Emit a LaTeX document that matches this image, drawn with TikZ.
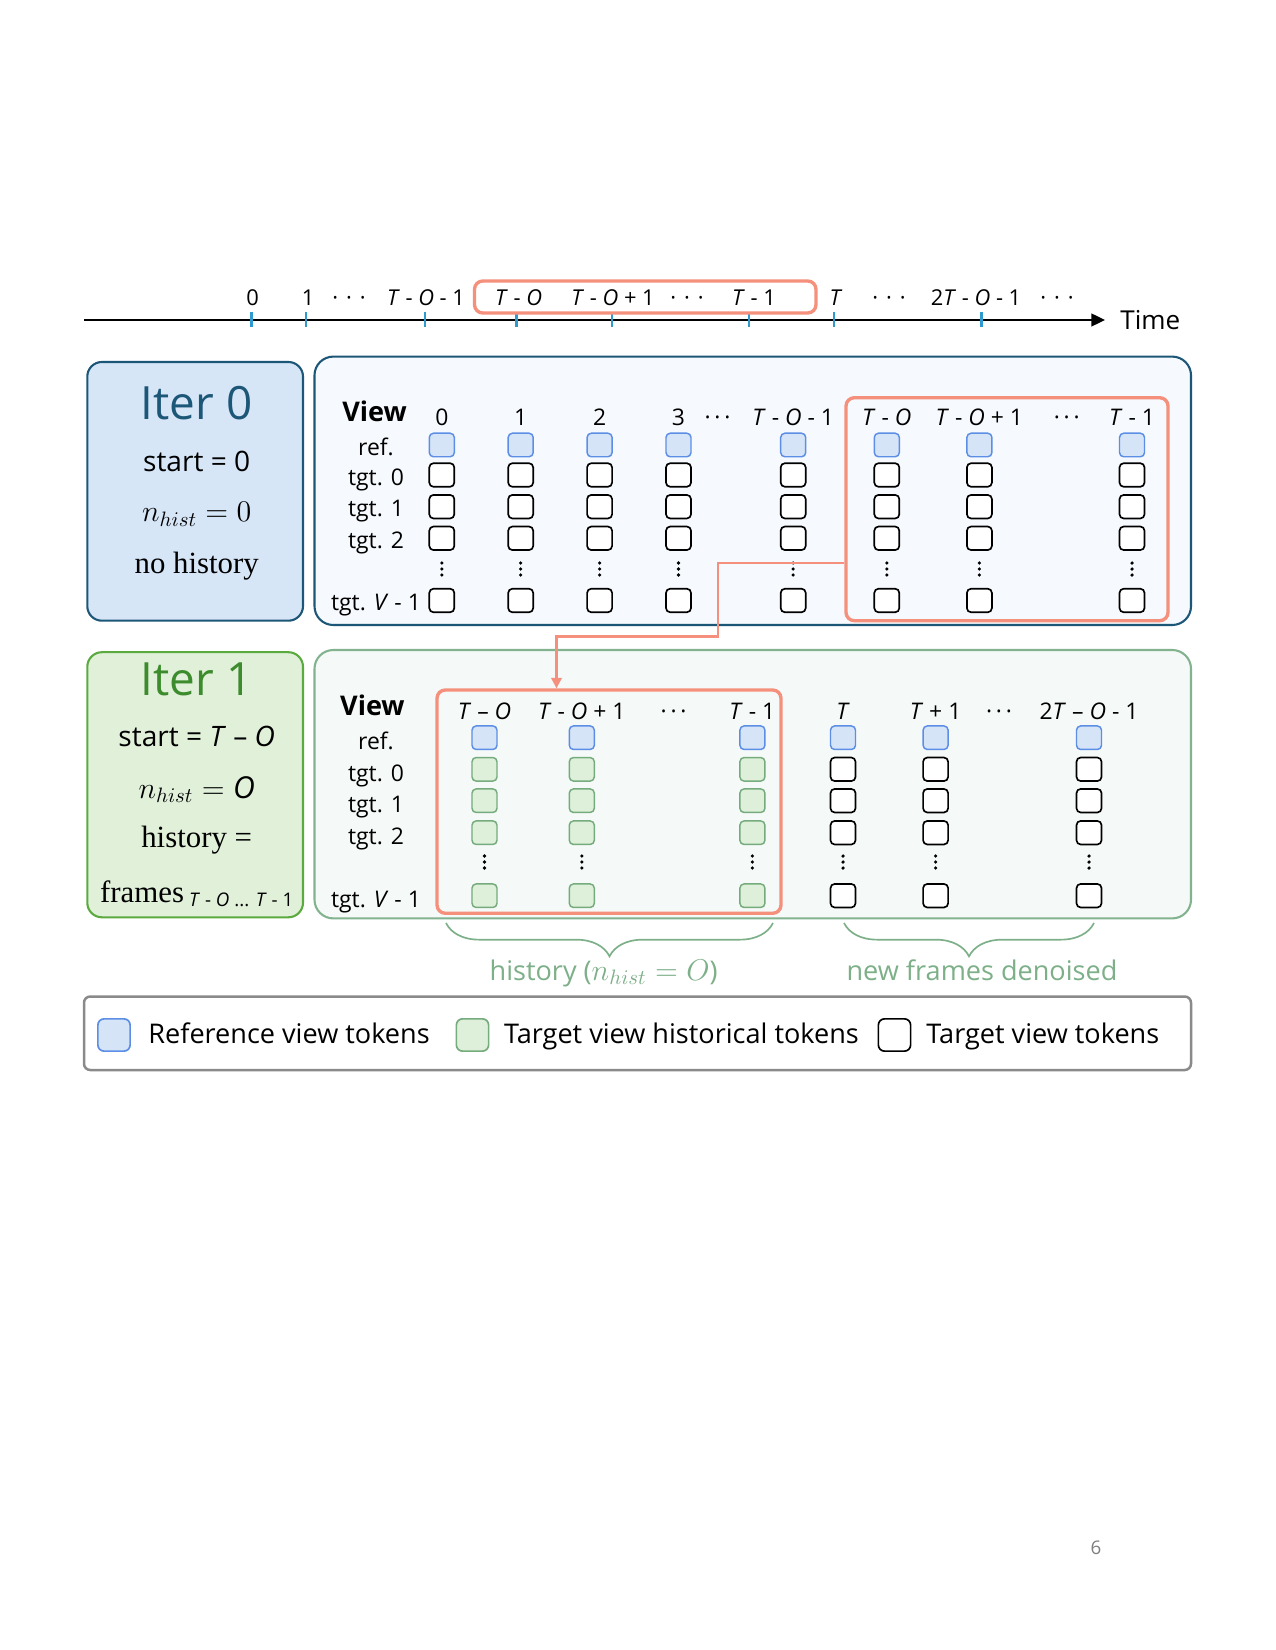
\documentclass[tikz,border=0pt]{standalone}
\usepackage{fontspec}
\setsansfont{Open Sans}
\newfontfamily\bodyserif{Liberation Serif}
\renewcommand{\familydefault}{\sfdefault}
\usetikzlibrary{arrows.meta,fit,decorations.pathreplacing}
\definecolor{iterzeroedge}{HTML}{1D5778}
\definecolor{iterzerofill}{HTML}{D6E6F7}
\definecolor{panelzerofill}{HTML}{F6F9FD}
\definecolor{iteronetext}{HTML}{3C8B2C}
\definecolor{iteroneedge}{HTML}{5BAA3F}
\definecolor{iteronefill}{HTML}{E0F0D9}
\definecolor{paneloneedge}{HTML}{82B38E}
\definecolor{panelonefill}{HTML}{F5F9F8}
\definecolor{reffill}{HTML}{D5E4F7}
\definecolor{refedge}{HTML}{5C8EE6}
\definecolor{histfill}{HTML}{DFF0DA}
\definecolor{histedge}{HTML}{75AB7D}
\definecolor{salmon}{HTML}{F4907B}
\definecolor{tickblue}{HTML}{2E9AD0}
\definecolor{bracegreen}{HTML}{7DAF88}
\definecolor{legendedge}{HTML}{8A8A8A}
\newcommand{\tdots}{·\hspace{3.8pt}·\hspace{3.8pt}·}
\newcommand{\hdots}{·\hspace{1.8pt}·\hspace{1.8pt}·}

\begin{document}
\begin{tikzpicture}[x=0.48pt, y=-0.48pt,
  tok/.style={rounded corners=2pt, minimum width=12pt, minimum height=11.3pt, inner sep=0pt},
  reftok/.style={tok, fill=reffill, draw=refedge, line width=0.7pt},
  histtok/.style={tok, fill=histfill, draw=histedge, line width=0.7pt},
  tgttok/.style={tok, fill=white, draw=black, line width=0.8pt},
  legtok/.style={minimum width=15.5pt, minimum height=15.5pt, rounded corners=3pt, inner sep=0pt},
  selbox/.style={draw=salmon, line width=1.6pt, rounded corners=4pt, inner sep=0pt},
  colhead/.style={anchor=base, inner sep=0pt, font=\fontsize{11}{13}\selectfont},
  rowlbl/.style={anchor=base, inner sep=0pt, font=\fontsize{11}{13}\selectfont},
  viewlbl/.style={anchor=base, inner sep=0pt, font=\bfseries\fontsize{13}{15}\selectfont},
  timelbl/.style={anchor=base, inner sep=0pt, font=\fontsize{10.5}{12}\selectfont},
  itertitle/.style={anchor=base, inner sep=0pt, font=\fontsize{22}{26}\selectfont},
  iterline/.style={anchor=base, inner sep=0pt, font=\fontsize{13.5}{16}\selectfont},
  serifline/.style={anchor=base, inner sep=0pt, font=\bodyserif\fontsize{14.8}{17}\selectfont},
  mathline/.style={anchor=base, inner sep=0pt, font=\fontsize{14.5}{17}\selectfont},
  bracelbl/.style={anchor=base, inner sep=0pt, text=bracegreen, font=\fontsize{13}{15}\selectfont},
  leglbl/.style={anchor=base west, inner sep=0pt, font=\fontsize{13}{15}\selectfont},
  brace/.style={draw=bracegreen, line width=0.8pt, decorate, decoration={brace, mirror, amplitude=16pt}},
]
  \fill[white] (0,0) rectangle (1275,1650);
  \useasboundingbox (0,0) rectangle (1275,1650);

  % time axis
  \coordinate (axstart) at (84,320);
  \coordinate (axend) at (1105,320);
  \draw[line width=1.2pt, -{Triangle[length=6.5pt,width=6pt]}] (axstart) -- (axend);
  \node[anchor=base west, inner sep=0pt, font=\fontsize{12.5}{15}\selectfont] (timeword) at (1120,330) {Time};
  \foreach \x in {251.5,306,425,516.5,612,749,834,981.5}
    \draw[tickblue, line width=1pt] (\x,312) -- (\x,327);
  \foreach \x/\tl [count=\i] in {252.5/0, 308/1, 349/\tdots, 426/{\textit{T} - \textit{O} - 1},
      518.6/{\textit{T} - \textit{O}}, 613/{\textit{T} - \textit{O} + 1}, 687/\tdots, 754/{\textit{T} - 1},
      836/\textit{T}, 889/\tdots, 976/{2\textit{T} - \textit{O} - 1}, 1057/\tdots}
    \node[timelbl] (tick\i) at (\x,306) {\tl};
  \node[selbox, fit={(474.5,281) (816,313)}] (seltime) {};

  % iter 0
  \draw[iterzeroedge, fill=iterzerofill, line width=1pt, rounded corners=7pt] (87.3,362) rectangle (303,620.7);
  \draw[iterzeroedge, fill=panelzerofill, line width=1pt, rounded corners=9pt] (314.5,356.6) rectangle (1191,625);
  \node[itertitle, text=iterzeroedge] (itzero) at (196.7,419.5) {Iter 0};
  \node[iterline] (itzerostart) at (196.7,471.5) {start = 0};
  \node[mathline] (itzerohist) at (196.7,521.5) {$n_{hist} = 0$};
  \node[serifline] (itzeronone) at (196.7,573) {no history};

  \node[viewlbl] (viewzero) at (374.5,421.5) {View};
  \foreach \y/\rl [count=\i] in {455/ref., 485/tgt. 0, 516.7/tgt. 1, 548.3/tgt. 2, 610.5/{tgt. \textit{V} - 1}}
    \node[rowlbl] (arow\i) at (376,\y) {\rl};
  \foreach \x/\hd [count=\c] in {441.8/0, 520.7/1, 599.6/2, 678.5/3, 793.2/{\textit{T} - \textit{O} - 1},
      886.8/{\textit{T} - \textit{O}}, 979.4/{\textit{T} - \textit{O} + 1}, 1132/{\textit{T} - 1}} {
    \node[colhead] (a\c-h) at (\x,425) {\hd};
    \node[reftok] (a\c-r) at (\x,445) {};
    \node[tgttok] (a\c-0) at (\x,475) {};
    \node[tgttok] (a\c-1) at (\x,506.7) {};
    \node[tgttok] (a\c-2) at (\x,538.3) {};
    \fill (\x,563) circle (0.85pt) (\x,569) circle (0.85pt) (\x,575) circle (0.85pt);
    \node[tgttok] (a\c-v) at (\x,600.5) {};
  }
  \node[colhead] (adots1) at (717.5,425) {\hdots};
  \node[colhead] (adots2) at (1066.7,425) {\hdots};
  \node[selbox, fit={(846,397.7) (1168,620.7)}] (selA) {};

  % iter 1
  \draw[iteroneedge, fill=iteronefill, line width=1pt, rounded corners=7pt] (87.3,652.2) rectangle (303,917.3);
  \draw[paneloneedge, fill=panelonefill, line width=1pt, rounded corners=9pt] (314.5,650) rectangle (1191,918.4);
  \node[itertitle, text=iteronetext] (itone) at (196.7,695) {Iter 1};
  \node[iterline] (itonestart) at (196.7,746.5) {start = \textit{T} -- \textit{O}};
  \node[mathline] (itonehist) at (196.7,798) {$n_{hist} = \textit{O}$};
  \node[serifline] (itonehis) at (196.7,847) {history =};
  \node[serifline] (itoneframes) at (196.7,902) {frames\,\raisebox{-2.3pt}{\sffamily\fontsize{9}{11}\selectfont\textit{T} - \textit{O} ... \textit{T} - 1}};

  \node[viewlbl] (viewone) at (372.4,715) {View};
  \foreach \y/\rl [count=\i] in {749.7/ref., 781.3/tgt. 0, 812.7/tgt. 1, 844.7/tgt. 2, 907.7/{tgt. \textit{V} - 1}}
    \node[rowlbl] (brow\i) at (376,\y) {\rl};
  \foreach \x/\hd/\st [count=\c] in {484.5/{\textit{T} -- \textit{O}}/histtok, 581.8/{\textit{T} - \textit{O} + 1}/histtok,
      752.4/{\textit{T} - 1}/histtok, 843/\textit{T}/tgttok, 935.6/{\textit{T} + 1}/tgttok,
      1089/{2\textit{T} -- \textit{O} - 1}/tgttok} {
    \node[colhead] (b\c-h) at (\x,719) {\hd};
    \node[reftok] (b\c-r) at (\x,737.7) {};
    \node[\st] (b\c-0) at (\x,769.3) {};
    \node[\st] (b\c-1) at (\x,800.7) {};
    \node[\st] (b\c-2) at (\x,832.7) {};
    \fill (\x,856) circle (0.85pt) (\x,862) circle (0.85pt) (\x,868) circle (0.85pt);
    \node[\st] (b\c-v) at (\x,895.7) {};
  }
  \node[colhead] (bdots1) at (673.6,719) {\hdots};
  \node[colhead] (bdots2) at (999,719) {\hdots};
  \node[selbox, fit={(437,690) (781,913.3)}] (selB) {};

  % carried history
  \coordinate (exitrow) at (0,563);
  \coordinate (jog) at (718,636.5);
  \coordinate (droplane) at (556.5,0);
  \draw[salmon, line width=1pt, -{Triangle[length=5pt,width=5pt]}] (selA.west |- exitrow) -| (jog) -| (droplane |- selB.north);

  % braces
  \draw[brace] (446,923) -- (773,923);
  \draw[brace] (844,923) -- (1094,923);
  \node[bracelbl] (histlbl) at (603.6,980) {history ({\fontsize{14}{16}\selectfont$n_{hist} = O$})};
  \node[bracelbl] (newlbl) at (982,980) {new frames denoised};

  % legend
  \draw[legendedge, line width=1.2pt, rounded corners=3pt] (84,996.5) rectangle (1191,1070);
  \node[legtok, fill=reffill, draw=refedge, line width=0.8pt] (legref) at (114,1035) {};
  \node[leglbl] (legreftxt) at (148,1043) {Reference view tokens};
  \node[legtok, fill=histfill, draw=histedge, line width=0.8pt] (leghist) at (472.5,1035) {};
  \node[leglbl] (leghisttxt) at (503.6,1043) {Target view historical tokens};
  \node[legtok, fill=white, draw=black, line width=0.8pt] (legtgt) at (894.5,1035) {};
  \node[leglbl] (legtgttxt) at (926,1043) {Target view tokens};

  \node[anchor=base, inner sep=0pt, text=black!50, font=\fontsize{9}{11}\selectfont] (pagenum) at (1096,1554.7) {6};
\end{tikzpicture}
\end{document}
